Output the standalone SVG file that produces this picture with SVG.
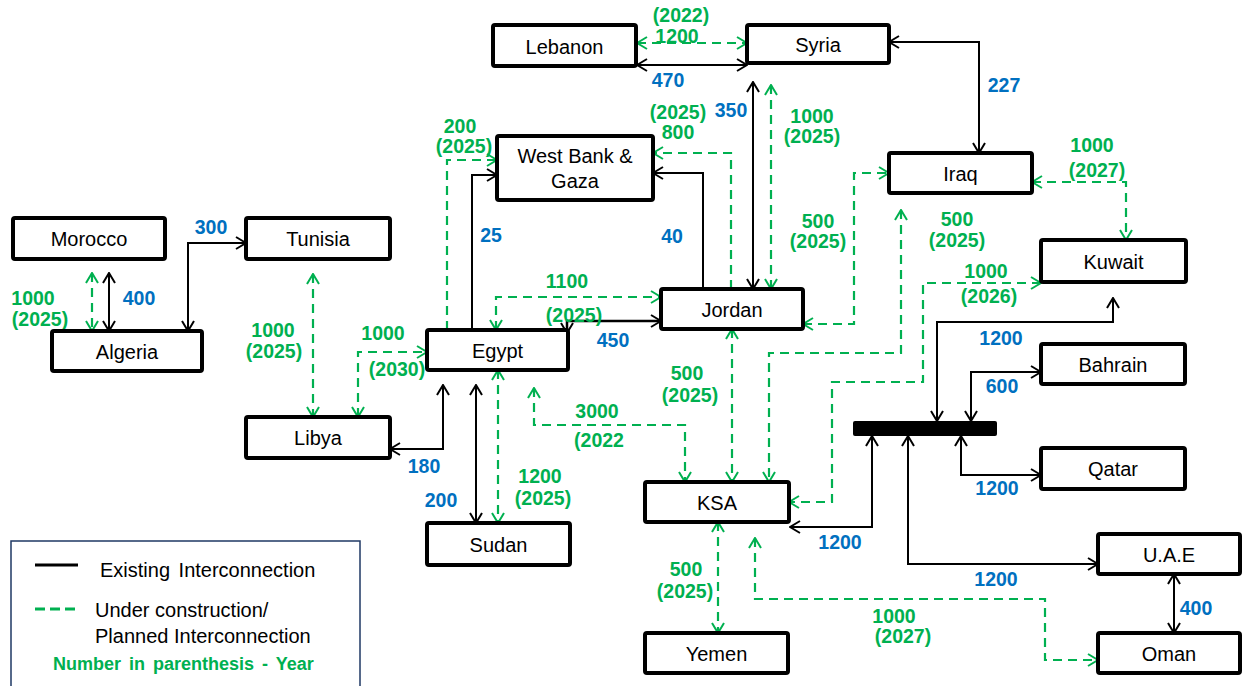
<svg xmlns="http://www.w3.org/2000/svg" width="1242" height="686" viewBox="0 0 1242 686">
<style>
.n rect{fill:#fff;stroke:#000;stroke-width:4}
.n text{font-family:"Liberation Sans",Arial,sans-serif;font-size:20px;fill:#000;text-anchor:middle}
.ex{fill:none;stroke:#000;stroke-width:2}
.pl{fill:none;stroke:#00B050;stroke-width:2.2;stroke-dasharray:9,6}
.lb text{font-family:"Liberation Sans",Arial,sans-serif;font-size:19.5px;font-weight:bold;text-anchor:middle}
.b{fill:#0070C0}
.g{fill:#00B050}
.lg{font-family:"Liberation Sans",Arial,sans-serif;font-size:20px;fill:#000}
</style>
<defs>
<marker id="ab" viewBox="0 0 12 14" refX="11" refY="7" markerWidth="12" markerHeight="14" markerUnits="userSpaceOnUse" orient="auto-start-reverse"><path d="M1,1 L11,7 L1,13" fill="none" stroke="#000" stroke-width="2"/></marker>
<marker id="ag" viewBox="0 0 12 14" refX="11" refY="7" markerWidth="12" markerHeight="14" markerUnits="userSpaceOnUse" orient="auto-start-reverse"><path d="M1,1 L11,7 L1,13" fill="none" stroke="#00B050" stroke-width="2"/></marker>
</defs>
<g id="connectors">
<g class="ex" marker-end="url(#ab)">
<path d="M637,65 H747" marker-start="url(#ab)"/>
<path d="M889,42 H979 V153" marker-start="url(#ab)"/>
<path d="M753,82 V289" marker-start="url(#ab)"/>
<path d="M472,330 V175 H497"/>
<path d="M703,289 V173 H653"/>
<path d="M567,333 V321 H661" marker-start="url(#ab)" stroke-width="2.5"/>
<path d="M476,385 V523" marker-start="url(#ab)"/>
<path d="M390,449 H443 V385" marker-start="url(#ab)"/>
<path d="M188,331 V243 H246" marker-start="url(#ab)"/>
<path d="M109,273 V331" marker-start="url(#ab)"/>
<path d="M937,421 V322 H1113 V298" marker-start="url(#ab)"/>
<path d="M971,421 V372 H1041" marker-start="url(#ab)"/>
<path d="M961,436 V475 H1041" marker-start="url(#ab)"/>
<path d="M790,527 H872 V436" marker-start="url(#ab)"/>
<path d="M908,436 V564 H1098" marker-start="url(#ab)"/>
<path d="M1174,574 V633" marker-start="url(#ab)"/>
</g>
<g class="pl" marker-end="url(#ag)">
<path d="M637,43 H747" marker-start="url(#ag)"/>
<path d="M771,85 V289" marker-start="url(#ag)"/>
<path d="M447,330 V160 H497"/>
<path d="M731,289 V153 H653"/>
<path d="M496,330 V297 H661" marker-start="url(#ag)"/>
<path d="M803,324 H854 V173 H889" marker-start="url(#ag)"/>
<path d="M1032,182 H1126 V240" marker-start="url(#ag)"/>
<path d="M901,210 V353 H769 V482" marker-start="url(#ag)"/>
<path d="M1041,283 H923 V382 H832 V502 H789" marker-start="url(#ag)"/>
<path d="M534,388 V425 H685 V482" marker-start="url(#ag)"/>
<path d="M732,329 V482" marker-start="url(#ag)"/>
<path d="M498,370 V523" marker-start="url(#ag)"/>
<path d="M358,417 V352 H427" marker-start="url(#ag)"/>
<path d="M313,274 V417" marker-start="url(#ag)"/>
<path d="M92,273 V331" marker-start="url(#ag)"/>
<path d="M718,522 V633" marker-start="url(#ag)"/>
<path d="M755,538 V599 H1045 V660 H1098" marker-start="url(#ag)"/>
</g>
</g>
<g id="labels" class="lb">
<text class="b" x="668" y="87">470</text>
<text class="b" x="1004" y="92">227</text>
<text class="b" x="731" y="117">350</text>
<text class="b" x="491" y="242">25</text>
<text class="b" x="672" y="243">40</text>
<text class="b" x="613" y="347">450</text>
<text class="b" x="211" y="234">300</text>
<text class="b" x="139" y="305">400</text>
<text class="b" x="424" y="473">180</text>
<text class="b" x="441" y="507">200</text>
<text class="b" x="1001" y="345">1200</text>
<text class="b" x="1002" y="393">600</text>
<text class="b" x="997" y="495">1200</text>
<text class="b" x="840" y="549">1200</text>
<text class="b" x="996" y="586">1200</text>
<text class="b" x="1196" y="615">400</text>
<text class="g" x="681" y="22">(2022)</text>
<text class="g" x="677" y="43">1200</text>
<text class="g" x="812" y="123">1000</text>
<text class="g" x="812" y="143">(2025)</text>
<text class="g" x="460" y="133">200</text>
<text class="g" x="464" y="153">(2025)</text>
<text class="g" x="678" y="119">(2025)</text>
<text class="g" x="678" y="139">800</text>
<text class="g" x="567" y="288">1100</text>
<text class="g" x="574" y="322">(2025)</text>
<text class="g" x="818" y="228">500</text>
<text class="g" x="818" y="248">(2025)</text>
<text class="g" x="1092" y="152">1000</text>
<text class="g" x="1097" y="177">(2027)</text>
<text class="g" x="957" y="226">500</text>
<text class="g" x="957" y="247">(2025)</text>
<text class="g" x="986" y="278">1000</text>
<text class="g" x="989" y="303">(2026)</text>
<text class="g" x="597" y="418">3000</text>
<text class="g" x="599" y="447">(2022</text>
<text class="g" x="687" y="380">500</text>
<text class="g" x="690" y="402">(2025)</text>
<text class="g" x="540" y="483">1200</text>
<text class="g" x="543" y="505">(2025)</text>
<text class="g" x="383" y="340">1000</text>
<text class="g" x="397" y="376">(2030)</text>
<text class="g" x="273" y="337">1000</text>
<text class="g" x="274" y="358">(2025)</text>
<text class="g" x="33" y="305">1000</text>
<text class="g" x="40" y="326">(2025)</text>
<text class="g" x="686" y="576">500</text>
<text class="g" x="685" y="598">(2025)</text>
<text class="g" x="894" y="623">1000</text>
<text class="g" x="903" y="643">(2027)</text>
</g>
<g id="lebanon" class="n"><rect x="493" y="25" width="143" height="41" rx="2"/><text x="564.5" y="54">Lebanon</text></g>
<g id="syria" class="n"><rect x="747" y="25" width="142" height="38" rx="2"/><text x="818" y="52">Syria</text></g>
<g id="wbg" class="n"><rect x="497" y="136" width="156" height="64" rx="2"/><text x="575" y="163">West Bank &amp;</text><text x="575" y="188">Gaza</text></g>
<g id="iraq" class="n"><rect x="889" y="153" width="143" height="40" rx="2"/><text x="960.5" y="181">Iraq</text></g>
<g id="morocco" class="n"><rect x="13" y="218" width="152" height="41" rx="2"/><text x="89" y="246">Morocco</text></g>
<g id="tunisia" class="n"><rect x="246" y="218" width="144" height="41" rx="2"/><text x="318" y="246">Tunisia</text></g>
<g id="kuwait" class="n"><rect x="1041" y="240" width="145" height="42" rx="2"/><text x="1113.5" y="269">Kuwait</text></g>
<g id="jordan" class="n"><rect x="661" y="289" width="142" height="40" rx="2"/><text x="732" y="317">Jordan</text></g>
<g id="algeria" class="n"><rect x="52" y="331" width="150" height="40" rx="2"/><text x="127" y="359">Algeria</text></g>
<g id="egypt" class="n"><rect x="427" y="330" width="141" height="40" rx="2"/><text x="497.5" y="358">Egypt</text></g>
<g id="bahrain" class="n"><rect x="1041" y="344" width="144" height="40" rx="2"/><text x="1113" y="372">Bahrain</text></g>
<g id="libya" class="n"><rect x="246" y="417" width="144" height="41" rx="2"/><text x="318" y="445">Libya</text></g>
<g id="qatar" class="n"><rect x="1041" y="448" width="144" height="41" rx="2"/><text x="1113" y="476">Qatar</text></g>
<g id="ksa" class="n"><rect x="645" y="482" width="144" height="40" rx="2"/><text x="717" y="510">KSA</text></g>
<g id="sudan" class="n"><rect x="427" y="523" width="143" height="42" rx="2"/><text x="498.5" y="552">Sudan</text></g>
<g id="uae" class="n"><rect x="1098" y="534" width="142" height="40" rx="2"/><text x="1169" y="562">U.A.E</text></g>
<g id="yemen" class="n"><rect x="645" y="633" width="143" height="40" rx="2"/><text x="716.5" y="661">Yemen</text></g>
<g id="oman" class="n"><rect x="1098" y="633" width="142" height="40" rx="2"/><text x="1169" y="661">Oman</text></g>
<g id="gcc-bus"><rect x="853" y="421" width="144" height="15" rx="2" fill="#000"/></g>
<g id="legend">
<rect x="11" y="541" width="349" height="150" fill="#fff" stroke="#1F3864" stroke-width="1.5"/>
<line x1="35" y1="565" x2="78" y2="565" stroke="#000" stroke-width="3"/>
<text class="lg" x="100" y="577" word-spacing="3">Existing Interconnection</text>
<line x1="35" y1="609" x2="80" y2="609" stroke="#00B050" stroke-width="3" stroke-dasharray="10,5"/>
<text class="lg" x="95" y="617">Under construction/</text>
<text class="lg" x="95" y="643">Planned Interconnection</text>
<text x="53" y="670" font-family="Liberation Sans, Arial, sans-serif" font-size="18px" font-weight="bold" fill="#00B050" word-spacing="3">Number in parenthesis  - Year</text>
</g>
</svg>
